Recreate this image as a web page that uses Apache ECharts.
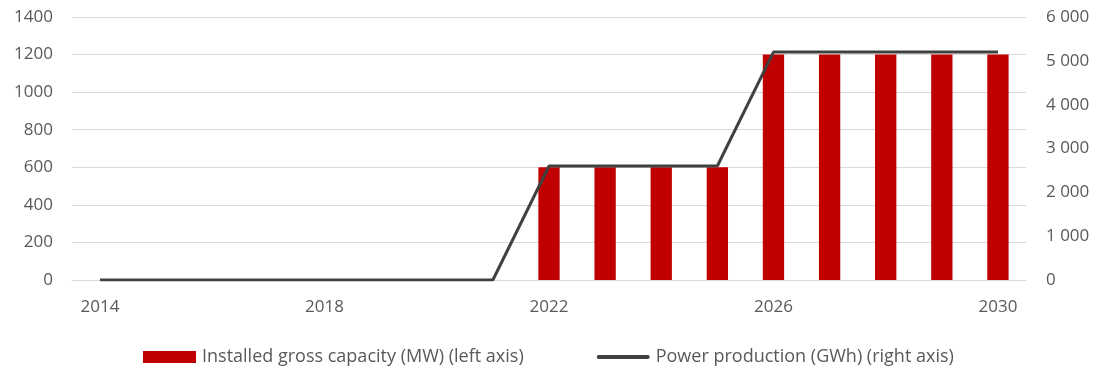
<!DOCTYPE html>
<html>
<head>
<meta charset="utf-8">
<script src="https://cdn.jsdelivr.net/npm/echarts@6/dist/echarts.min.js"></script>
<style>
  html, body { margin: 0; padding: 0; background: #fff; }
  #chart { width: 1094px; height: 369px; }
</style>
</head>
<body>
<div id="chart"></div>
<script>
// Years on the category axis
const years = ['2014','2015','2016','2017','2018','2019','2020','2021','2022','2023','2024','2025','2026','2027','2028','2029','2030'];
// Installed gross capacity, MW (left axis)
const capacityMW = [null,null,null,null,null,null,null,null,600,600,600,600,1200,1200,1200,1200,1200];
// Power production, GWh (right axis)
const productionGWh = [0,0,0,0,0,0,0,0,2600,2600,2600,2600,5200,5200,5200,5200,5200];

const seriesNames = ['Installed gross capacity (MW) (left axis)', 'Power production (GWh) (right axis)'];

const font = '"Open Sans", "Liberation Sans", sans-serif';
const labelColor = '#595959';

const chart = echarts.init(document.getElementById('chart'), null, { renderer: 'canvas' });

chart.setOption({
  animation: false,
  textStyle: { fontFamily: font },
  grid: { left: 72, right: 68, top: 17, bottom: 89, containLabel: false },
  legend: {
    bottom: 3,
    left: 143,
    padding: 0,
    itemGap: 73,
    itemWidth: 53,
    itemHeight: 12,
    textStyle: { color: labelColor, fontSize: 18, fontFamily: font, padding: [0, 0, 0, 1] },
    data: [
      { name: seriesNames[0], icon: 'rect' },
      { name: seriesNames[1], icon: 'path://M2,0 L51,0 A2,2 0 0 1 51,4 L2,4 A2,2 0 0 1 2,0 Z' }
    ]
  },
  xAxis: {
    type: 'category',
    data: years,
    axisTick: { show: false },
    axisLine: { show: true, lineStyle: { color: '#d9d9d9', width: 1 } },
    axisLabel: { interval: 3, color: labelColor, fontSize: 17, margin: 19, fontFamily: font }
  },
  yAxis: [
    {
      type: 'value', min: 0, max: 1400, interval: 200,
      axisLine: { show: false }, axisTick: { show: false },
      splitLine: { lineStyle: { color: '#d9d9d9', width: 1 } },
      axisLabel: { color: labelColor, fontSize: 17, margin: 19, fontFamily: font, formatter: v => String(v) }
    },
    {
      type: 'value', min: 0, max: 6000, interval: 1000, position: 'right',
      axisLine: { show: false }, axisTick: { show: false },
      splitLine: { show: false },
      axisLabel: {
        color: labelColor, fontSize: 17, margin: 20, fontFamily: font,
        formatter: v => String(v).replace(/\B(?=(\d{3})+(?!\d))/g, ' ')
      }
    }
  ],
  series: [
    {
      name: seriesNames[0],
      type: 'bar',
      yAxisIndex: 0,
      data: capacityMW,
      barWidth: '38%',
      itemStyle: { color: '#C00000' }
    },
    {
      name: seriesNames[1],
      type: 'line',
      yAxisIndex: 1,
      data: productionGWh,
      symbol: 'none',
      lineStyle: { color: '#404040', width: 3 },
      itemStyle: { color: '#404040' },
      z: 3
    }
  ]
});
</script>
</body>
</html>
